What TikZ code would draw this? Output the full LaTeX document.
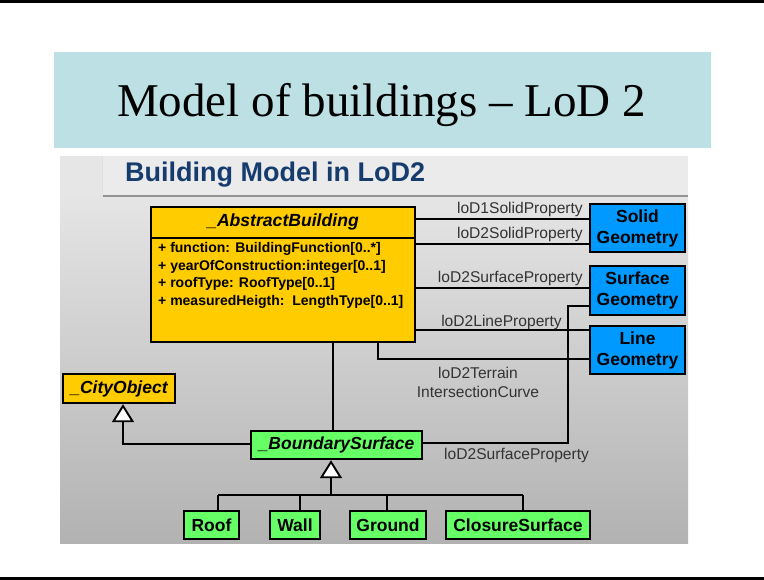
\documentclass[tikz,border=0pt]{standalone}
\usepackage{fontspec}
\setmainfont{Liberation Sans}
\newfontfamily\serifT{Liberation Serif}
\usetikzlibrary{arrows.meta}
\definecolor{band}{HTML}{BCE0E3}
\definecolor{ybox}{HTML}{FFCC00}
\definecolor{bbox}{HTML}{0099FF}
\definecolor{gbox}{HTML}{66FF66}
\definecolor{hdr}{RGB}{22,60,110}
\definecolor{lbl}{HTML}{333333}
\definecolor{pantop}{HTML}{E5E5E5}
\definecolor{panbot}{HTML}{B2B2B2}
\definecolor{hdrbg}{HTML}{E6E6E6}
\definecolor{hdrbox}{HTML}{EBEBEB}
\begin{document}
\begin{tikzpicture}[x=1pt,y=-1pt,
  box/.style={draw=black,line width=2.4pt,inner sep=0pt,align=center,
    font=\bfseries\fontsize{17.5}{21}\selectfont},
  ibox/.style={box,font=\bfseries\itshape\fontsize{17.5}{21}\selectfont},
  conn/.style={draw=black,line width=1.9pt},
  gen/.style={conn,-{Triangle[width=22pt,length=18pt,fill=white]}},
  lab/.style={text=lbl,inner sep=0pt,font=\fontsize{15.6}{19}\selectfont},
  attr/.style={inner sep=0pt,anchor=base west,font=\bfseries\fontsize{14}{17}\selectfont}]
\useasboundingbox (0,0) rectangle (764,580);
\fill[white] (0,0) rectangle (764,580);
% frame lines
\fill[black] (0,0) rectangle (764,3);
\fill[black] (0,576.5) rectangle (764,579.5);
% title band
\fill[band] (54,52) rectangle (711,148);
\node[anchor=base,inner sep=0pt,font=\serifT\fontsize{47}{50}\selectfont] (title) at (381.5,117) {Model of buildings – LoD 2};
% panel
\shade[top color=pantop,bottom color=panbot] (60,196) rectangle (688,543);
\fill[hdrbg] (60,156) rectangle (688,196);
\fill[hdrbox] (102,156) rectangle (688,196);
\draw[line width=1pt,black!12] (102,156) -- (102,196);
\draw[line width=2pt,black!42] (103,196.5) -- (688,196.5);
\node[anchor=base west,inner sep=0pt,text=hdr,font=\bfseries\fontsize{27}{30}\selectfont] (head) at (125,182) {Building Model in LoD2};
% AbstractBuilding
\node[box,fill=ybox,minimum width=264pt,minimum height=135pt] (ab) at (283,274.5) {};
\draw[line width=2pt] (ab.west |- 0,238) -- (ab.east |- 0,238);
\node[inner sep=0pt,anchor=base,font=\bfseries\itshape\fontsize{17.6}{21}\selectfont] (abt) at (283,227) {\_AbstractBuilding};
\node[attr] (a1) at (158,253) {+ function: BuildingFunction[0..*]};
\node[attr] (a2) at (158,270.5) {+ yearOfConstruction:integer[0..1]};
\node[attr] (a3) at (158,288) {+ roofType: RoofType[0..1]};
\node[attr] (a4) at (158,305.5) {+ measuredHeigth:\ \ LengthType[0..1]};
% geometry boxes
\node[box,fill=bbox,minimum width=95pt,minimum height=48pt] (solid) at (637.5,228) {Solid\\Geometry};
\node[box,fill=bbox,minimum width=95pt,minimum height=49pt] (surf) at (637.5,290.5) {Surface\\Geometry};
\node[box,fill=bbox,minimum width=95pt,minimum height=48pt] (line) at (637.5,350) {Line\\Geometry};
% other classes
\node[ibox,fill=ybox,minimum width=112pt,minimum height=29pt] (co) at (119,388.5) {\_CityObject};
\node[ibox,fill=gbox,minimum width=171pt,minimum height=28pt] (bs) at (336.5,445) {\_BoundarySurface};
\node[box,fill=gbox,minimum width=55pt,minimum height=28pt] (roof) at (211.5,525) {Roof};
\node[box,fill=gbox,minimum width=50pt,minimum height=28pt] (wall) at (295,525) {Wall};
\node[box,fill=gbox,minimum width=76pt,minimum height=28pt] (ground) at (388,525) {Ground};
\node[box,fill=gbox,minimum width=144pt,minimum height=28pt] (closure) at (518,525) {ClosureSurface};
% property connectors
\draw[conn] (ab.east |- 0,219) -- (solid.west |- 0,219);
\draw[conn] (ab.east |- 0,244) -- (solid.west |- 0,244);
\draw[conn] (ab.east |- 0,288) -- (surf.west |- 0,288);
\draw[conn] (ab.east |- 0,330) -- (line.west |- 0,330);
\draw[conn] (ab.south -| 378,0) |- (line.west |- 0,359);
\draw[conn] (bs.east |- 0,443) -| (568,306) -- (surf.west |- 0,306);
\node[lab,anchor=base east] (l1) at (583,214) {loD1SolidProperty};
\node[lab,anchor=base east] (l2) at (583,239) {loD2SolidProperty};
\node[lab,anchor=base east] (l3) at (583,283) {loD2SurfaceProperty};
\node[lab,anchor=base east] (l4) at (562,327) {loD2LineProperty};
\node[lab,align=center] (l5) at (478,382.5) {loD2Terrain\\IntersectionCurve};
\node[lab,anchor=base west] (l6) at (444,459) {loD2SurfaceProperty};
% composition / generalisation
\draw[conn] (ab.south -| 333,0) -- (bs.north -| 333,0);
\draw[gen] (bs.west |- 0,444) -| (co.south -| 123,0);
\coordinate (bus) at (331,495);
\draw[conn] (bus -| 218,0) -- (bus -| 523,0);
\draw[gen] (bus) -- (bs.south -| bus);
\draw[conn] (bus -| 218,0) -- (roof.north -| 218,0);
\draw[conn] (bus -| 300,0) -- (wall.north -| 300,0);
\draw[conn] (bus -| 387,0) -- (ground.north -| 387,0);
\draw[conn] (bus -| 523,0) -- (closure.north -| 523,0);
\end{tikzpicture}
\end{document}
